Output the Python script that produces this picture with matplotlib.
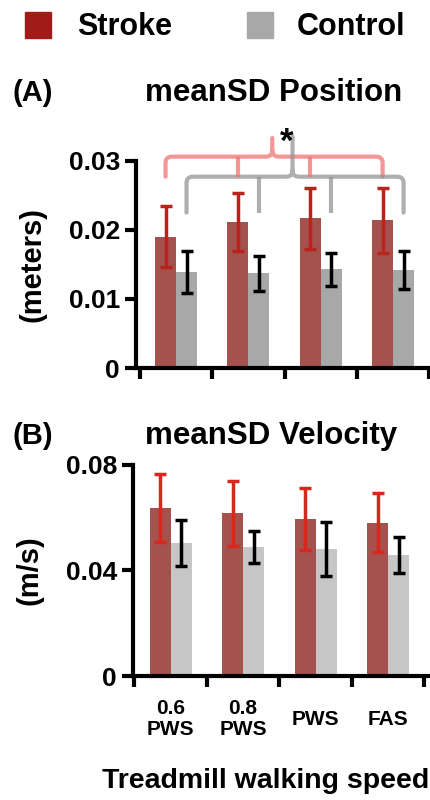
import numpy as np
import matplotlib.pyplot as plt
from matplotlib.patches import Rectangle, PathPatch
from matplotlib.path import Path

plt.rcParams['font.family'] = ['Liberation Sans', 'DejaVu Sans']
plt.rcParams['font.weight'] = 'bold'

speeds = ["0.6\nPWS", "0.8\nPWS", "PWS", "FAS"]

# meanSD position (meters)
pos_stroke = [0.0190, 0.0212, 0.0217, 0.0214]
pos_stroke_sd = [0.0044, 0.0042, 0.0044, 0.0047]
pos_control = [0.0139, 0.0137, 0.0143, 0.0142]
pos_control_sd = [0.0030, 0.0025, 0.0024, 0.0027]

# meanSD velocity (m/s)
vel_stroke = [0.0636, 0.0617, 0.0595, 0.0580]
vel_stroke_sd = [0.0130, 0.0123, 0.0118, 0.0112]
vel_control = [0.0504, 0.0489, 0.0481, 0.0458]
vel_control_sd = [0.0087, 0.0060, 0.0103, 0.0068]

STROKE = "#a5524f"
CTRL_A = "#a8a8a8"
CTRL_B = "#c6c6c6"
W = 0.29

fig = plt.figure(figsize=(4.3, 8.0), dpi=100)
axA = fig.add_axes([0.316, 0.540, 0.684, 0.259])
axB = fig.add_axes([0.309, 0.155, 0.691, 0.264])


def panel(ax, s, s_sd, c, c_sd, ctrl_col, err_col, ymax, ticks, ticklabels,
          ylabel, xlim):
    x = np.arange(len(s))
    ax.bar(x - W / 2, s, W, color=STROKE)
    ax.bar(x + W / 2, c, W, color=ctrl_col)
    ek = dict(fmt="none", capsize=4, capthick=2.5, elinewidth=2.5)
    ax.errorbar(x - W / 2, s, yerr=s_sd, ecolor=err_col, **ek)
    ax.errorbar(x + W / 2, c, yerr=c_sd, ecolor="black", **ek)
    ax.set_xlim(*xlim)
    ax.set_ylim(0, ymax)
    for sp in ("top", "right"):
        ax.spines[sp].set_visible(False)
    for sp in ("left", "bottom"):
        ax.spines[sp].set_linewidth(3)
    ax.set_yticks(ticks)
    ax.set_yticklabels(ticklabels, fontsize=19, fontweight="bold")
    ax.set_xticks(np.arange(-0.5, 3.6, 1.0))
    ax.set_xticklabels([])
    ax.tick_params(axis="both", width=3, length=8, direction="out")
    ax.set_ylabel(ylabel, fontsize=21, fontweight="bold", labelpad=16)
    return x


xa = panel(axA, pos_stroke, pos_stroke_sd, pos_control, pos_control_sd, CTRL_A,
           "#b8231c", 0.03, [0, 0.01, 0.02, 0.03], ["0", "0.01", "0.02", "0.03"],
           "(meters)", (-0.555, 3.51))

xb = panel(axB, vel_stroke, vel_stroke_sd, vel_control, vel_control_sd, CTRL_B,
           "#d9271e", 0.08, [0, 0.04, 0.08], ["0", "0.04", "0.08"], "(m/s)",
           (-0.52, 3.577))
for i, lab in enumerate(speeds):
    axB.text(xb[i], -0.204, lab, transform=axB.get_xaxis_transform(),
             ha="center", va="center", fontsize=15, fontweight="bold",
             linespacing=1.1)
fig.text(0.237, 0.015, "Treadmill walking speed", ha="left", va="baseline",
         fontsize=20.5, fontweight="bold")


def brace(ax, xs, y_top, y_end, y_peak, xpeak, color, rx=0.09, ry=0.0009):
    kw = dict(facecolor="none", edgecolor=color, lw=3, clip_on=False,
              capstyle="round", joinstyle="round")
    x0, x1 = xs[0], xs[-1]
    verts = [(x0, y_end), (x0, y_top - ry), (x0, y_top), (x0 + rx, y_top),
             (xpeak - rx, y_top), (xpeak, y_top), (xpeak, y_top + ry),
             (xpeak, y_peak),
             (xpeak, y_top + ry), (xpeak, y_top), (xpeak + rx, y_top),
             (x1 - rx, y_top), (x1, y_top), (x1, y_top - ry), (x1, y_end)]
    codes = [Path.MOVETO, Path.LINETO, Path.CURVE3, Path.CURVE3,
             Path.LINETO, Path.CURVE3, Path.CURVE3, Path.LINETO,
             Path.MOVETO, Path.CURVE3, Path.CURVE3,
             Path.LINETO, Path.CURVE3, Path.CURVE3, Path.LINETO]
    ax.add_patch(PathPatch(Path(verts, codes), **kw))
    for xi in xs[1:-1]:
        ax.plot([xi, xi], [y_top, y_end], color=color, lw=3, clip_on=False,
                solid_capstyle="butt")


brace(axA, xa - W / 2, 0.0306, 0.0277, 0.0333, 1.33, (0.94, 0.45, 0.45, 0.75))
brace(axA, xa + W / 2, 0.0277, 0.0225, 0.0335, 1.61, (0.58, 0.58, 0.58, 0.75))
axA.text(1.53, 0.0313, "*", ha="center", va="baseline", fontsize=25,
         fontweight="bold", clip_on=False)

fig.text(0.03, 0.874, "(A)", fontsize=21, fontweight="bold", va="baseline")
fig.text(0.337, 0.874, "meanSD Position", fontsize=22.5, fontweight="bold",
         va="baseline")
fig.text(0.03, 0.445, "(B)", fontsize=21, fontweight="bold", va="baseline")
fig.text(0.337, 0.445, "meanSD Velocity", fontsize=22.5, fontweight="bold",
         va="baseline")

# legend
fig.patches.append(Rectangle((25 / 430, 1 - 38 / 800), 26 / 430, 26 / 800,
                             transform=fig.transFigure, color="#a01c18"))
fig.patches.append(Rectangle((247 / 430, 1 - 38 / 800), 26 / 430, 26 / 800,
                             transform=fig.transFigure, color="#a8a8a8"))
fig.text(77 / 430, 1 - 35 / 800, "Stroke", fontsize=22, fontweight="bold",
         va="baseline")
fig.text(297 / 430, 1 - 35 / 800, "Control", fontsize=22, fontweight="bold",
         va="baseline")

fig.savefig("out.png", dpi=100)
